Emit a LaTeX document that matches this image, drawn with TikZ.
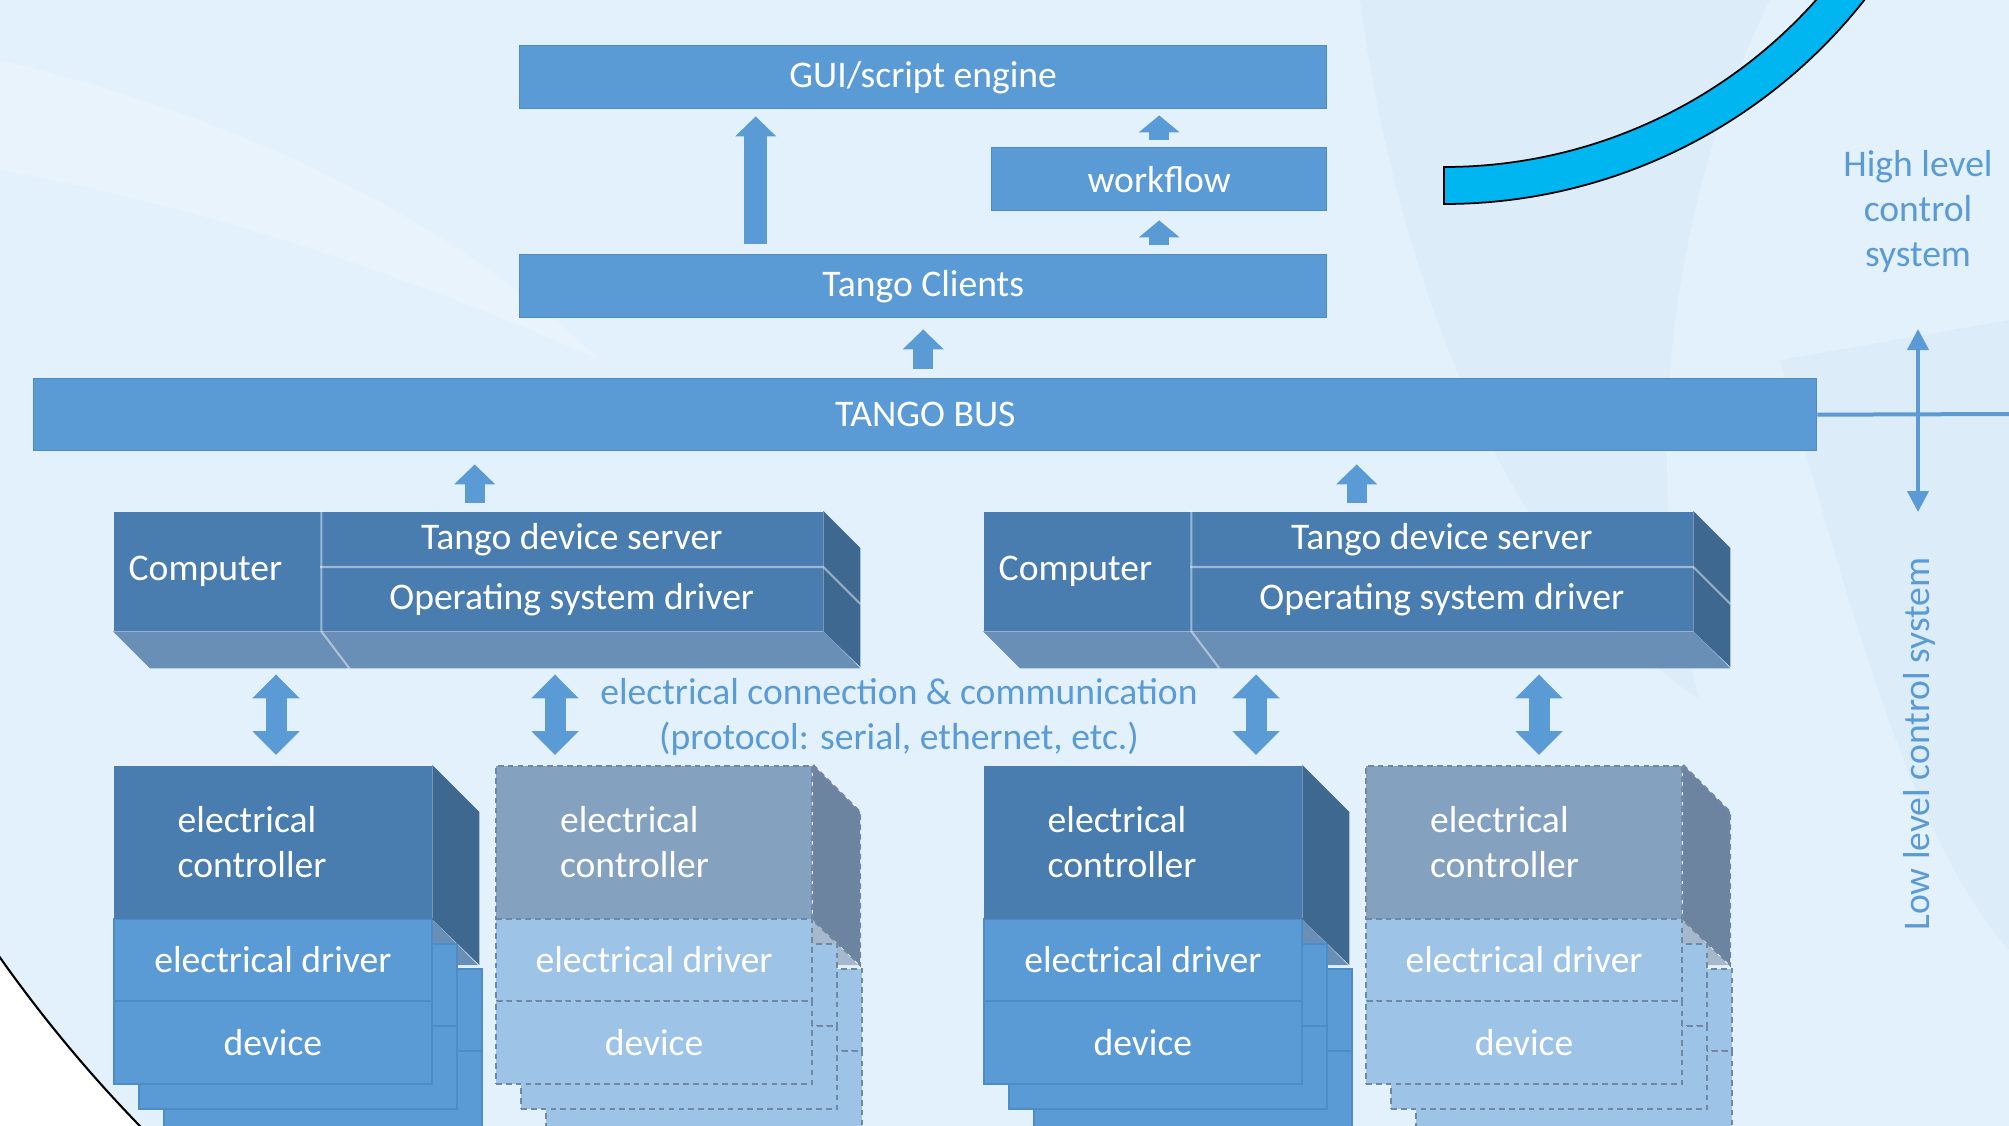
\documentclass[tikz,border=0pt]{standalone}
\usepackage{fontspec}
\setmainfont{Carlito}
\usetikzlibrary{positioning,arrows.meta}

\definecolor{slidebg}{HTML}{E3F1FC}
\definecolor{swirl}{HTML}{CFE4F3}
\definecolor{tangoblue}{HTML}{5B9BD5}
\definecolor{tangoedge}{HTML}{4E8CC6}
\definecolor{pcfront}{HTML}{4A7DAF}
\definecolor{pcside}{HTML}{3F6890}
\definecolor{pcbottom}{HTML}{6A8FB6}
\definecolor{optfront}{HTML}{84A1BF}
\definecolor{optside}{HTML}{6C849F}
\definecolor{optbottom}{HTML}{A6B8CB}
\definecolor{optblue}{HTML}{9DC3E6}
\definecolor{optdash}{HTML}{7188A3}
\definecolor{cyanband}{HTML}{00B6F0}

\begin{document}
\begin{tikzpicture}[
  every node/.style={inner sep=0pt, font=\fontsize{10.7}{12.8}\selectfont},
  flat/.style={rectangle, anchor=north west, fill=tangoblue, draw=tangoedge, line width=0.4pt, text=white},
  pc/.style={rectangle, anchor=north west, fill=pcfront, text=white},
  layer/.style={rectangle, anchor=north west, fill=tangoblue, draw=tangoedge, line width=0.5pt, text=white, minimum width=3.18cm},
  optlayer/.style={rectangle, anchor=north west, fill=optblue, draw=optdash, line width=0.6pt, dash pattern=on 1.6pt off 1.2pt, text=white, minimum width=3.16cm},
  ctrl/.style={rectangle, anchor=north west, fill=pcfront, text=white, minimum width=3.18cm, minimum height=1.53cm, align=left, text width=1.90cm, inner xsep=0.64cm},
  optctrl/.style={ctrl, fill=optfront, draw=optdash, line width=0.6pt, dash pattern=on 1.6pt off 1.2pt, minimum width=3.16cm, text width=1.88cm},
  note/.style={text=tangoblue},
  divider/.style={draw=white, draw opacity=0.45, line width=0.6pt},
  fatup/.style={tangoblue, line width=0.2cm, -{Triangle[width=0.4cm,length=0.2cm]}},
  fatboth/.style={tangoblue, line width=0.21cm, {Triangle[width=0.46cm,length=0.24cm]}-{Triangle[width=0.46cm,length=0.24cm]}},
  thinline/.style={tangoblue, line width=0.04cm}
]

% slide background
\useasboundingbox (0,0) rectangle (20.09,-11.26);
\clip (0,0) rectangle (20.09,-11.26);
\fill[white] (0,0) rectangle (20.09,-11.26);
\filldraw[fill=slidebg, draw=black, line width=0.6pt] (11.45,-1.50) circle[radius=14.01];
\fill[swirl, opacity=0.35] (13.6,0) .. controls (14.0,-3) and (15.2,-5.8) .. (17.0,-7.0) .. controls (16.4,-5) and (16.6,-2.2) .. (17.7,0) -- cycle;
\fill[swirl, opacity=0.3] (17.8,-3.6) .. controls (18.6,-6.5) and (19.2,-8.5) .. (20.09,-9.5) -- (20.09,-3.2) -- cycle;
\fill[white, opacity=0.18] (0,-0.6) .. controls (2.5,-1.2) and (4.5,-2.2) .. (6.0,-3.6) .. controls (4.2,-2.8) and (2.2,-2.1) .. (0,-1.7) -- cycle;
\filldraw[fill=cyanband, draw=black, line width=0.5pt] ([shift={(-90:5.35)}]14.44,3.31) arc[start angle=-90, end angle=-20, radius=5.35] -- ([shift={(-20:4.98)}]14.44,3.31) arc[start angle=-20, end angle=-90, radius=4.98] -- cycle;

% high level part
\node[flat, minimum width=8.07cm, minimum height=0.63cm] (gui) at (5.19,-0.45) {GUI/script engine};
\node[flat, minimum width=3.35cm, minimum height=0.63cm] (workflow) at (9.91,-1.47) {workflow};
\node[flat, minimum width=8.07cm, minimum height=0.63cm] (clients) at (5.19,-2.54) {Tango Clients};
\node[flat, minimum width=17.83cm, minimum height=0.72cm] (bus) at (0.33,-3.78) {TANGO BUS};

\coordinate (guiup) at ([xshift=-1.675cm]clients.north);
\draw[fatup, line width=0.23cm, shorten <=0.1cm, shorten >=0.07cm] (guiup) -- (guiup |- gui.south);
\draw[fatup, -{Triangle[width=0.4cm,length=0.17cm]}, shorten <=0.09cm, shorten >=0.09cm] (clients.north -| workflow.south) -- (workflow.south);
\draw[fatup, -{Triangle[width=0.4cm,length=0.17cm]}, shorten <=0.07cm, shorten >=0.06cm] (workflow.north) -- (workflow.north |- gui.south);
\draw[fatup, shorten <=0.09cm, shorten >=0.11cm] (bus.north -| clients.south) -- (clients.south);

% low level part, two computers with their controllers
\foreach \n/\ox/\da/\db/\up in {1/0/1.63/0.60/-0.97, 2/8.70/2.73/1.74/-0.85}{
  \node[pc, minimum width=2.07cm, minimum height=1.19cm, align=left, text width=1.77cm, inner xsep=0.15cm] (comp\n) at (1.13+\ox,-5.11) {Computer};
  \node[pc, minimum width=5.02cm, minimum height=0.56cm] (tds\n) at (3.20+\ox,-5.11) {Tango device server};
  \node[pc, minimum width=5.02cm, minimum height=0.63cm] (osd\n) at (3.20+\ox,-5.67) {Operating system driver};
  \fill[pcside] (tds\n.north east) -- ++(0.37,-0.37) -- ++(0,-1.19) -- (osd\n.south east) -- cycle;
  \fill[pcbottom] (comp\n.south west) -- (osd\n.south east) -- ++(0.37,-0.37) -- ([shift={(0.37,-0.37)}]comp\n.south west) -- cycle;
  \draw[divider] (comp\n.north east) -- (comp\n.south east) -- ++(0.28,-0.37);
  \draw[divider] (osd\n.north west) -- (osd\n.north east) -- ++(0.37,-0.37);
  \coordinate (base\n) at ([yshift=-0.37cm]comp\n.south west);

  \coordinate (pcup\n) at ([xshift=\up cm]tds\n.north);
  \draw[fatup, shorten <=0.08cm, shorten >=0.13cm] (pcup\n) -- (pcup\n |- bus.south);

  % controller with its devices
  \fill[pcbottom] (1.13+\ox,-9.18) -- ++(3.18,0) -- ++(0.47,-0.47) -- ++(-3.18,0) -- cycle;
  \foreach \k in {2,1}{
    \node[layer, minimum height=0.82cm] (drv\n\k) at (1.13+\ox+0.25*\k,-9.18-0.25*\k) {};
    \node[layer, minimum height=0.83cm] (dev\n\k) at (1.13+\ox+0.25*\k,-10.00-0.25*\k) {};
  }
  \node[layer, minimum height=0.82cm] (drv\n) at (1.13+\ox,-9.18) {electrical driver};
  \node[layer, minimum height=0.83cm] (dev\n) at (1.13+\ox,-10.00) {device};
  \node[ctrl] (ctrl\n) at (1.13+\ox,-7.65) {electrical\\controller};
  \fill[pcside] (ctrl\n.north east) -- ++(0.47,-0.47) -- ++(0,-1.53) -- (ctrl\n.south east) -- cycle;

  % optional controller
  \fill[optbottom] (4.95+\ox,-9.18) -- ++(3.16,0) -- ++(0.47,-0.47) -- ++(-3.16,0) -- cycle;
  \foreach \k in {2,1}{
    \node[optlayer, minimum height=0.82cm] (odrv\n\k) at (4.95+\ox+0.25*\k,-9.18-0.25*\k) {};
    \node[optlayer, minimum height=0.83cm] (odev\n\k) at (4.95+\ox+0.25*\k,-10.00-0.25*\k) {};
  }
  \node[optlayer, minimum height=0.82cm] (odrv\n) at (4.95+\ox,-9.18) {electrical driver};
  \node[optlayer, minimum height=0.83cm] (odev\n) at (4.95+\ox,-10.00) {device};
  \node[optctrl] (octrl\n) at (4.95+\ox,-7.65) {electrical\\controller};
  \filldraw[fill=optside, draw=optdash, line width=0.6pt, dash pattern=on 1.6pt off 1.2pt] (octrl\n.north east) -- ++(0.47,-0.47) -- ++(0,-1.53) -- (octrl\n.south east) -- cycle;

  \coordinate (da\n) at ([xshift=\da cm]ctrl\n.north west);
  \coordinate (db\n) at ([xshift=\db cm]octrl\n.north west);
  \draw[fatboth, shorten <=0.06cm, shorten >=0.10cm] (da\n |- base\n) -- (da\n);
  \draw[fatboth, shorten <=0.06cm, shorten >=0.10cm] (db\n |- base\n) -- (db\n);
}

\node[note, align=center] (link) at (8.99,-7.165) {electrical connection \& communication\\(protocol: serial, ethernet, etc.)};

% level marks on the right
\coordinate (busend) at (20.09,-4.14);
\draw[thinline] (bus.east) -- (busend);
\node[note, align=center] (high) at (19.18,-2.11) {High level\\control\\system};
\node[note, rotate=90] (low) at (19.19,-7.44) {Low level control system};
\coordinate (levtop) at (19.18,-3.29);
\coordinate (levbot) at (19.18,-5.12);
\draw[thinline, {Triangle[width=0.21cm,length=0.21cm]}-{Triangle[width=0.21cm,length=0.21cm]}] (levbot) -- (levtop);

\end{tikzpicture}
\end{document}
